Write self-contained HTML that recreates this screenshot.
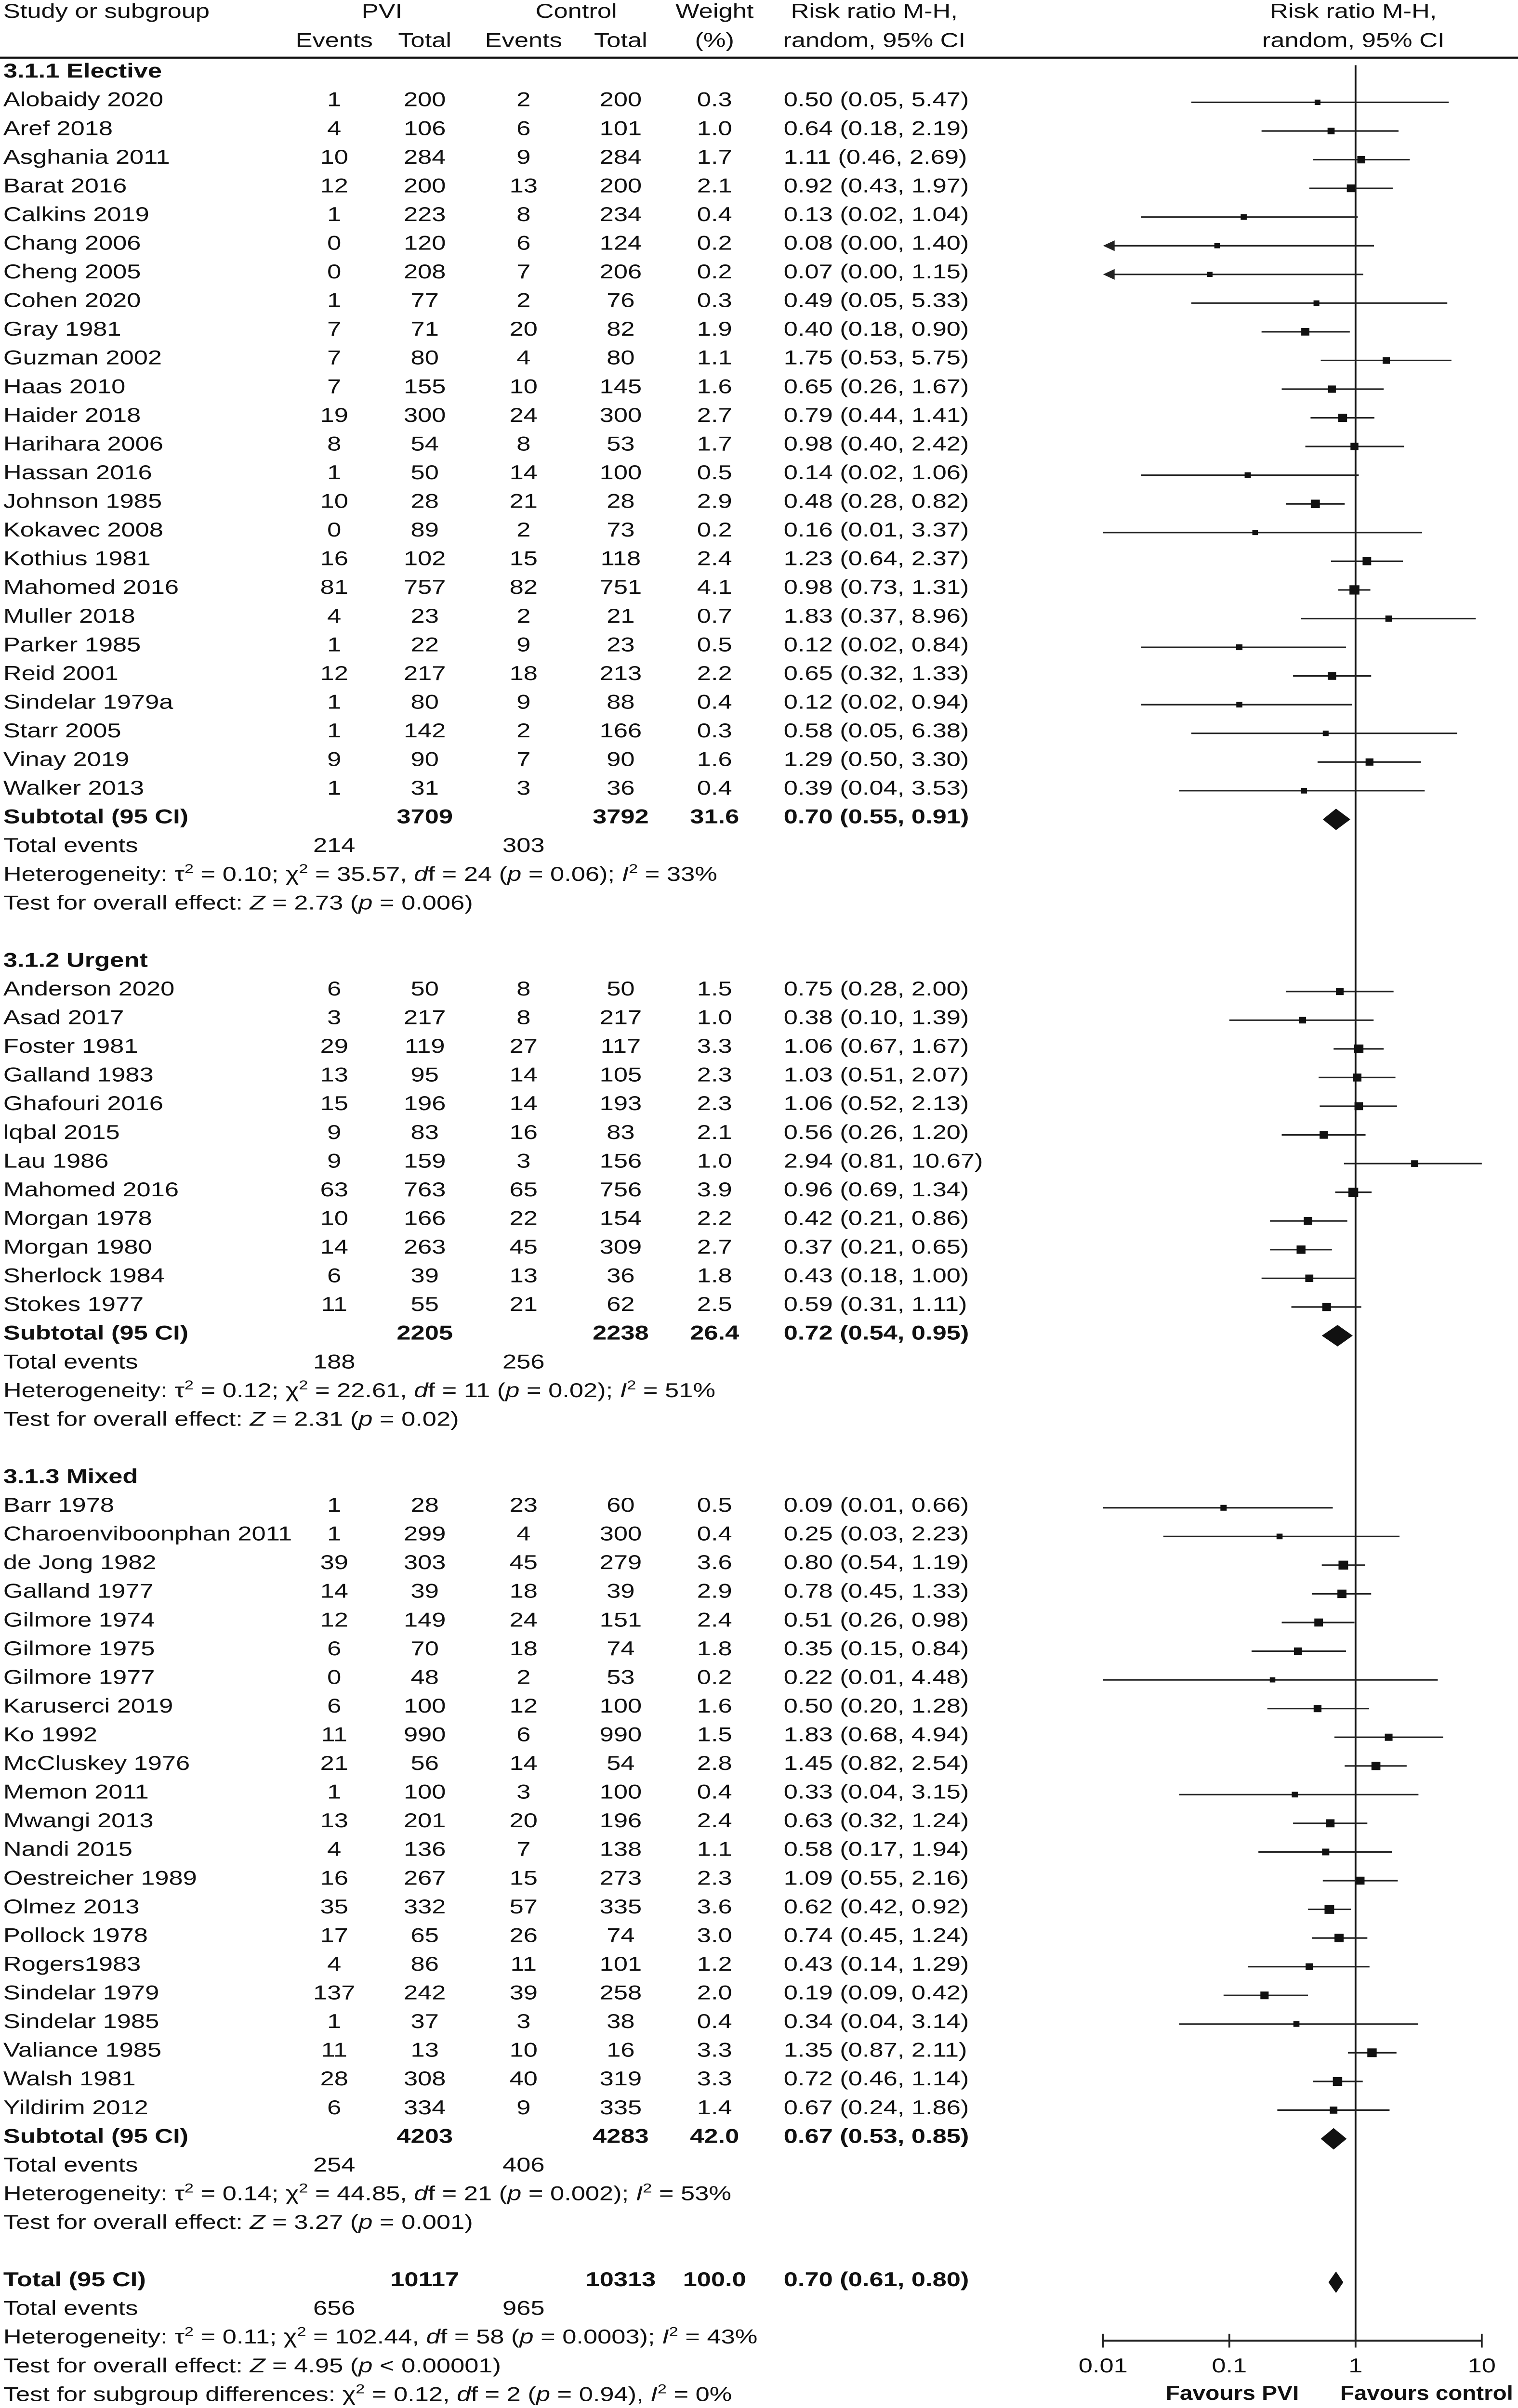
<!DOCTYPE html>
<html><head><meta charset="utf-8">
<meta name="viewport" content="width=3151">
<style>
html,body{margin:0;padding:0;background:#fff;width:100%;height:100%;overflow:hidden;}
svg{display:block;position:fixed;left:0;top:0;width:100vw;height:100vh;}
text{font-family:"Liberation Sans",sans-serif;font-size:13px;fill:#111;}
.b{font-weight:bold;}
</style></head>
<body>
<svg id="chart" viewBox="0 0 922 1569.9" preserveAspectRatio="none" xmlns="http://www.w3.org/2000/svg"></svg>
<script>
// ---- data ----
const studyNames=["Alobaidy 2020","Aref 2018","Asghania 2011","Barat 2016","Calkins 2019"," Chang 2006","Cheng 2005","Cohen 2020","Gray 1981","Guzman 2002","Haas 2010","Haider 2018","Harihara 2006","Hassan 2016","Johnson 1985","Kokavec 2008","Kothius 1981","Mahomed 2016","Muller 2018","Parker 1985","Reid 2001","Sindelar 1979a","Starr 2005","Vinay 2019","Walker 2013",
"Anderson 2020","Asad 2017","Foster 1981","Galland 1983","Ghafouri 2016","lqbal 2015","Lau 1986","Mahomed 2016","Morgan 1978","Morgan 1980","Sherlock 1984","Stokes 1977",
"Barr 1978","Charoenviboonphan 2011","de Jong 1982","Galland 1977","Gilmore 1974","Gilmore 1975","Gilmore 1977","Karuserci 2019","Ko 1992","McCluskey 1976","Memon 2011","Mwangi 2013","Nandi 2015","Oestreicher 1989","Olmez 2013","Pollock 1978","Rogers1983","Sindelar 1979","Sindelar 1985","Valiance 1985","Walsh 1981","Yildirim 2012"];
const studyGroup=[0,0,0,0,0,0,0,0,0,0,0,0,0,0,0,0,0,0,0,0,0,0,0,0,0, 1,1,1,1,1,1,1,1,1,1,1,1, 2,2,2,2,2,2,2,2,2,2,2,2,2,2,2,2,2,2,2,2,2,2];
const pviEvents=[1,4,10,12,1,0,0,1,7,7,7,19,8,1,10,0,16,81,4,1,12,1,1,9,1, 6,3,29,13,15,9,9,63,10,14,6,11, 1,1,39,14,12,6,0,6,11,21,1,13,4,16,35,17,4,137,1,11,28,6];
const pviTotals=[200,106,284,200,223,120,208,77,71,80,155,300,54,50,28,89,102,757,23,22,217,80,142,90,31, 50,217,119,95,196,83,159,763,166,263,39,55, 28,299,303,39,149,70,48,100,990,56,100,201,136,267,332,65,86,242,37,13,308,334];
const ctrlEvents=[2,6,9,13,8,6,7,2,20,4,10,24,8,14,21,2,15,82,2,9,18,9,2,7,3, 8,8,27,14,14,16,3,65,22,45,13,21, 23,4,45,18,24,18,2,12,6,14,3,20,7,15,57,26,11,39,3,10,40,9];
const ctrlTotals=[200,101,284,200,234,124,206,76,82,80,145,300,53,100,28,73,118,751,21,23,213,88,166,90,36, 50,217,117,105,193,83,156,756,154,309,36,62, 60,300,279,39,151,74,53,100,990,54,100,196,138,273,335,74,101,258,38,16,319,335];
const weights=[0.3,1.0,1.7,2.1,0.4,0.2,0.2,0.3,1.9,1.1,1.6,2.7,1.7,0.5,2.9,0.2,2.4,4.1,0.7,0.5,2.2,0.4,0.3,1.6,0.4, 1.5,1.0,3.3,2.3,2.3,2.1,1.0,3.9,2.2,2.7,1.8,2.5, 0.5,0.4,3.6,2.9,2.4,1.8,0.2,1.6,1.5,2.8,0.4,2.4,1.1,2.3,3.6,3.0,1.2,2.0,0.4,3.3,3.3,1.4];
const riskRatio=[0.50,0.64,1.11,0.92,0.13,0.08,0.07,0.49,0.40,1.75,0.65,0.79,0.98,0.14,0.48,0.16,1.23,0.98,1.83,0.12,0.65,0.12,0.58,1.29,0.39, 0.75,0.38,1.06,1.03,1.06,0.56,2.94,0.96,0.42,0.37,0.43,0.59, 0.09,0.25,0.80,0.78,0.51,0.35,0.22,0.50,1.83,1.45,0.33,0.63,0.58,1.09,0.62,0.74,0.43,0.19,0.34,1.35,0.72,0.67];
const ciLower=[0.05,0.18,0.46,0.43,0.02,0.00,0.00,0.05,0.18,0.53,0.26,0.44,0.40,0.02,0.28,0.01,0.64,0.73,0.37,0.02,0.32,0.02,0.05,0.50,0.04, 0.28,0.10,0.67,0.51,0.52,0.26,0.81,0.69,0.21,0.21,0.18,0.31, 0.01,0.03,0.54,0.45,0.26,0.15,0.01,0.20,0.68,0.82,0.04,0.32,0.17,0.55,0.42,0.45,0.14,0.09,0.04,0.87,0.46,0.24];
const ciUpper=[5.47,2.19,2.69,1.97,1.04,1.40,1.15,5.33,0.90,5.75,1.67,1.41,2.42,1.06,0.82,3.37,2.37,1.31,8.96,0.84,1.33,0.94,6.38,3.30,3.53, 2.00,1.39,1.67,2.07,2.13,1.20,10.67,1.34,0.86,0.65,1.00,1.11, 0.66,2.23,1.19,1.33,0.98,0.84,4.48,1.28,4.94,2.54,3.15,1.24,1.94,2.16,0.92,1.24,1.29,0.42,3.14,2.11,1.14,1.86];
const groupLabels=["3.1.1 Elective","3.1.2 Urgent","3.1.3 Mixed"];
const subPviTotal=[3709,2205,4203];
const subCtrlTotal=[3792,2238,4283];
const subWeight=["31.6","26.4","42.0"];
const subRR=[0.70,0.72,0.67];
const subLower=[0.55,0.54,0.53];
const subUpper=[0.91,0.95,0.85];
const subPviEvents=[214,188,254];
const subCtrlEvents=[303,256,406];
const subTau=["0.10","0.12","0.14"];
const subChi=["35.57","22.61","44.85"];
const subDf=[24,11,21];
const subHetP=["0.06","0.02","0.002"];
const subI2=["33%","51%","53%"];
const subZ=["2.73","2.31","3.27"];
const subZp=["0.006","0.02","0.001"];
const totalValues=[10117,10313,"100.0",0.70,0.61,0.80,656,965];
const tickValues=[0.01,0.1,1,10];
const tickLabels=["0.01","0.1","1","10"];

// ---- layout ----
const svg=document.getElementById('chart');
const NS="http://www.w3.org/2000/svg";
const SX=1.18;
const X0=670,X1=900,AX_Y=1526;
function xs(v){return X0+(Math.log10(v)-Math.log10(0.01))/(Math.log10(10)-Math.log10(0.01))*(X1-X0);}
function rowY(k){return 46+18.7*k;}
function el(tag,attrs,parent){const e=document.createElementNS(NS,tag);for(const a in attrs)e.setAttribute(a,attrs[a]);(parent||svg).appendChild(e);return e;}
function txt(x,y,s,anchor,bold,name){
  const t=el('text',{x:(x/SX).toFixed(2),y:y+4.6,'text-anchor':anchor||'start',transform:`scale(${SX},1)`});
  if(bold)t.setAttribute('class','b');
  
  
  t.textContent=s;return t;
}
function rich(x,y,parts,name){
  const t=el('text',{x:(x/SX).toFixed(2),y:y+4.6,transform:`scale(${SX},1)`});
  
  
  parts.forEach(p=>{const s=el('tspan',{},t);if(p[1]==='i')s.setAttribute('font-style','italic');if(p[1]==='sup'){s.setAttribute('font-size','8.5');s.setAttribute('dy','-5');}if(p[1]==='after'){s.setAttribute('dy','5');}s.textContent=p[0];});
  return t;
}
const C_EV1=203,C_TOT1=258,C_EV2=318,C_TOT2=377,C_W=434,C_RR=476;
txt(2,7,"Study or subgroup","start",false,"header-study");
txt(232,7,"PVI","middle",false,"header-pvi");
txt(350,7,"Control","middle",false,"header-control");
txt(434,7,"Weight","middle",false,"header-weight");
txt(531,7,"Risk ratio M-H,","middle",false,"header-rr");
txt(C_EV1,26,"Events","middle",false,"header-pvi-events");
txt(C_TOT1,26,"Total","middle",false,"header-pvi-total");
txt(C_EV2,26,"Events","middle",false,"header-control-events");
txt(C_TOT2,26,"Total","middle",false,"header-control-total");
txt(434,26,"(%)","middle",false,"header-weight-pct");
txt(531,26,"random, 95% CI","middle",false,"header-rr-ci");
txt(822,7,"Risk ratio M-H,","middle",false,"plot-header");
txt(822,26,"random, 95% CI","middle",false,"plot-header-ci");
const hl=el('line',{x1:0,x2:922,y1:37.6,y2:37.6,stroke:'#111','stroke-width':1.3});


const nl=el('line',{x1:xs(1),x2:xs(1),y1:42.5,y2:AX_Y,stroke:'#111','stroke-width':1.1});



function fmt(v){return v.toFixed(2);}
function diamond(k,rr,lo,hi,name){
  const y=rowY(k)+2,h=7;
  const d=el('polygon',{points:`${xs(lo)},${y} ${xs(rr)},${y-h} ${xs(hi)},${y} ${xs(rr)},${y+h}`,fill:'#111'});
  
  
}
let k=0;
for(let g=0;g<3;g++){
  txt(2,rowY(k),groupLabels[g],"start",true,"subgroup-title");k++;
  for(let i=0;i<studyNames.length;i++){
    if(studyGroup[i]!==g)continue;
    const y=rowY(k);
    txt(2,y,studyNames[i],"start",false,"study-name");
    txt(C_EV1,y,String(pviEvents[i]),"middle",false,"pvi-events");
    txt(C_TOT1,y,String(pviTotals[i]),"middle",false,"pvi-total");
    txt(C_EV2,y,String(ctrlEvents[i]),"middle",false,"control-events");
    txt(C_TOT2,y,String(ctrlTotals[i]),"middle",false,"control-total");
    txt(C_W,y,weights[i].toFixed(1),"middle",false,"weight");
    txt(C_RR,y,`${fmt(riskRatio[i])} (${fmt(ciLower[i])}, ${fmt(ciUpper[i])})`,"start",false,"risk-ratio-ci");
    const py=y+2;
    const lo=Math.max(ciLower[i],0.01),hi=Math.min(ciUpper[i],10);
    const arrowL=ciLower[i]<0.01;
    const ln=el('line',{x1:arrowL?xs(0.01)+5:xs(lo),x2:xs(hi),y1:py,y2:py,stroke:'#222','stroke-width':1});
    
    
    if(arrowL){
      const a=el('polygon',{points:`${xs(0.01)},${py} ${xs(0.01)+7},${py-3.5} ${xs(0.01)+7},${py+3.5}`,fill:'#222'});
      
      
    }
    const s=2.6+1.7*Math.sqrt(weights[i]);
    const sq=el('rect',{x:xs(riskRatio[i])-s/2,y:py-s/2,width:s,height:s,fill:'#111'});
    
    
    k++;
  }
  let y=rowY(k);
  txt(2,y,"Subtotal (95 CI)","start",true,"subtotal-label");
  txt(C_TOT1,y,String(subPviTotal[g]),"middle",true,"subtotal-pvi-total");
  txt(C_TOT2,y,String(subCtrlTotal[g]),"middle",true,"subtotal-control-total");
  txt(C_W,y,subWeight[g],"middle",true,"subtotal-weight");
  txt(C_RR,y,`${fmt(subRR[g])} (${fmt(subLower[g])}, ${fmt(subUpper[g])})`,"start",true,"subtotal-rr");
  diamond(k,subRR[g],subLower[g],subUpper[g],"subtotal-diamond");
  k++;y=rowY(k);
  txt(2,y,"Total events","start",false,"total-events-label");
  txt(C_EV1,y,String(subPviEvents[g]),"middle",false,"total-events-pvi");
  txt(C_EV2,y,String(subCtrlEvents[g]),"middle",false,"total-events-control");
  k++;
  rich(2,rowY(k),[["Heterogeneity: τ"],["2","sup"],[" = "+subTau[g]+"; χ","after"],["2","sup"],[" = "+subChi[g]+", ","after"],["d","i"],["f = "+subDf[g]+" ("],["p","i"],[" = "+subHetP[g]+"); "],["I","i"],["2","sup"],[" = "+subI2[g],"after"]],"heterogeneity");
  k++;
  rich(2,rowY(k),[["Test for overall effect: "],["Z","i"],[" = "+subZ[g]+" ("],["p","i"],[" = "+subZp[g]+")"]],"overall-effect");
  k+=2;
}
let y=rowY(k);
txt(2,y,"Total (95 CI)","start",true,"total-label");
txt(C_TOT1,y,String(totalValues[0]),"middle",true,"total-pvi");
txt(C_TOT2,y,String(totalValues[1]),"middle",true,"total-control");
txt(C_W,y,totalValues[2],"middle",true,"total-weight");
txt(C_RR,y,`${fmt(totalValues[3])} (${fmt(totalValues[4])}, ${fmt(totalValues[5])})`,"start",true,"total-rr");
diamond(k,totalValues[3],totalValues[4],totalValues[5],"total-diamond");
k++;y=rowY(k);
txt(2,y,"Total events","start",false,"total-events-label");
txt(C_EV1,y,String(totalValues[6]),"middle",false,"total-events-pvi");
txt(C_EV2,y,String(totalValues[7]),"middle",false,"total-events-control");
k++;
rich(2,rowY(k),[["Heterogeneity: τ"],["2","sup"],[" = 0.11; χ","after"],["2","sup"],[" = 102.44, ","after"],["d","i"],["f = 58 ("],["p","i"],[" = 0.0003); "],["I","i"],["2","sup"],[" = 43%","after"]],"total-heterogeneity");
k++;
rich(2,rowY(k),[["Test for overall effect: "],["Z","i"],[" = 4.95 ("],["p","i"],[" < 0.00001)"]],"total-overall-effect");
k++;
rich(2,rowY(k),[["Test for subgroup differences: χ"],["2","sup"],[" = 0.12, ","after"],["d","i"],["f = 2 ("],["p","i"],[" = 0.94), "],["I","i"],["2","sup"],[" = 0%","after"]],"subgroup-differences");
const ax=el('line',{x1:X0,x2:X1,y1:AX_Y,y2:AX_Y,stroke:'#222','stroke-width':1.3});


tickValues.forEach((v,i)=>{
  const t=el('line',{x1:xs(v),x2:xs(v),y1:AX_Y-4.5,y2:AX_Y+4.5,stroke:'#222','stroke-width':1.1});
  
  
  txt(xs(v),1542,tickLabels[i],"middle",false,"x-tick-label");
});
const fp=txt(708,1560,"Favours PVI","start",true,"favours-pvi-label");
fp.setAttribute('textLength',(81/SX).toFixed(1));
fp.setAttribute('lengthAdjust','spacingAndGlyphs');
const fc=txt(814,1560,"Favours control","start",true,"favours-control-label");
fc.setAttribute('textLength',(105/SX).toFixed(1));
fc.setAttribute('lengthAdjust','spacingAndGlyphs');
</script>
</body></html>
